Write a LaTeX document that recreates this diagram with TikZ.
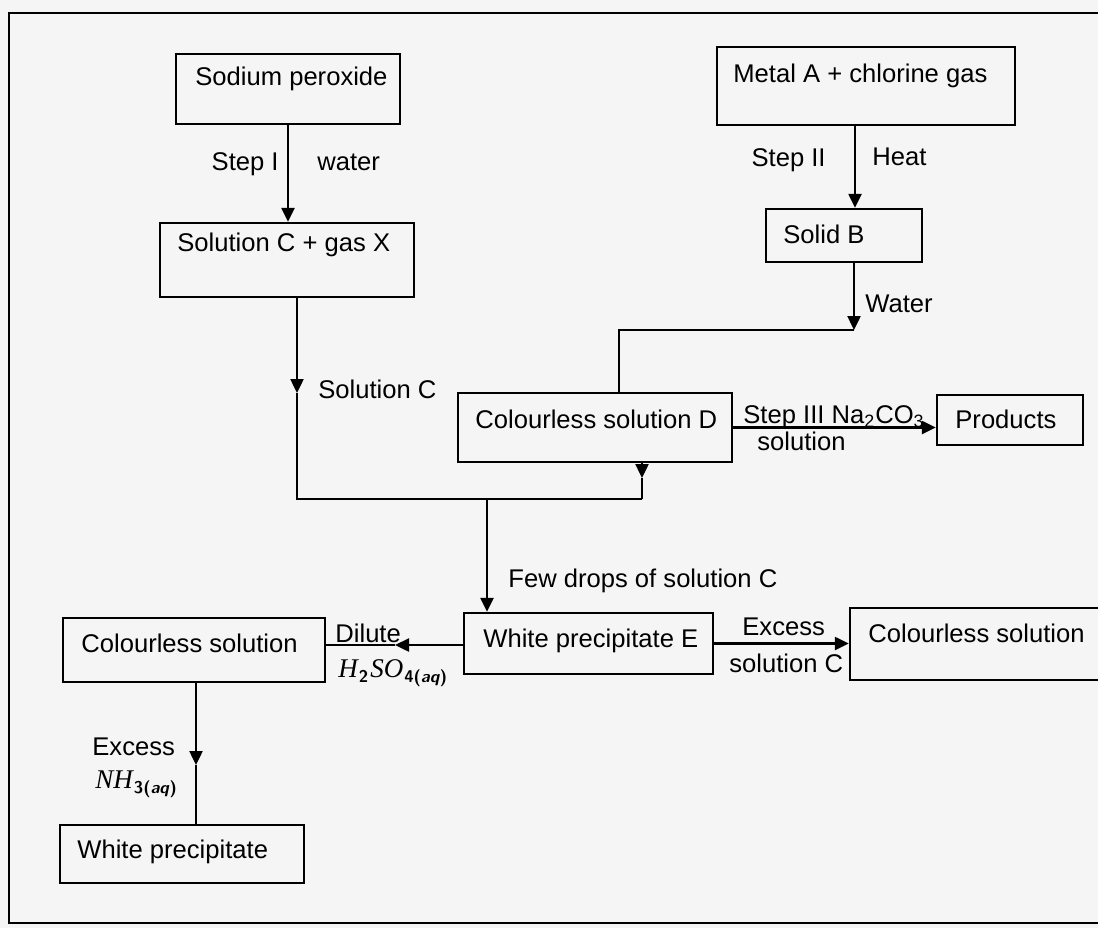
\documentclass[tikz,border=0pt]{standalone}
\usepackage{fontspec}
\setmainfont{Liberation Sans}
\newfontfamily\chemserif{Liberation Serif}
\usetikzlibrary{arrows.meta,fit}
\newcommand{\chsub}[1]{\kern0.5pt\raisebox{-0.45ex}{\fontsize{8.5}{9}\selectfont\sffamily\bfseries\upshape #1}\kern1pt}
\newcommand{\chaq}[1]{\kern0.5pt\raisebox{-0.45ex}{\fontsize{8.5}{9}\selectfont\sffamily\bfseries\upshape #1(\textit{aq})}}
\begin{document}
\begin{tikzpicture}[x=0.5pt,y=-0.5pt,
  boxst/.style={draw,line width=1.2pt,inner sep=0pt},
  txt/.style={anchor=base west,inner sep=0pt,font=\fontsize{12.8}{15}\selectfont},
  txte/.style={anchor=base east,inner sep=0pt,font=\fontsize{12.8}{15}\selectfont},
  conn/.style={line width=1.2pt},
  arr/.style={line width=1.2pt,-{Triangle[length=7pt,width=6.5pt]}}]
\useasboundingbox (0,0) rectangle (1098,928);
\clip (0,0) rectangle (1098,928);
\fill[black!4] (0,0) rectangle (1098,928);
% outer frame
\draw[line width=1.2pt] (1120,13) -- (9,13) -- (9,923) -- (1120,923);
% boxes
\node[boxst,fit={(176,54) (400,124)}] (bSP) {};
\node[boxst,fit={(160,223) (414,297)}] (bSC) {};
\node[boxst,fit={(717,47) (1015,125)}] (bMA) {};
\node[boxst,fit={(766,209) (922,262)}] (bSB) {};
\node[boxst,fit={(458,393) (732,462)}] (bD) {};
\node[boxst,fit={(937,395) (1083,445)}] (bP) {};
\node[boxst,fit={(464,613) (713,674)}] (bE) {};
\node[boxst,fit={(850,608) (1130,680)}] (bR) {};
\node[boxst,fit={(63,618) (325,682)}] (bL) {};
\node[boxst,fit={(60,825) (304,883)}] (bW) {};
% box texts
\node[txt] (tSP) at (195,85) {Sodium peroxide};
\node[txt] (tSC) at (177,251) {Solution C + gas X};
\node[txt] (tMA) at (733,82) {Metal A + chlorine gas};
\node[txt] (tSB) at (783,243) {Solid B};
\node[txt] (tD) at (475,428) {Colourless solution D};
\node[txt] (tP) at (955,428) {Products};
\node[txt] (tE) at (483,647) {White precipitate E};
\node[txt] (tR) at (868,642) {Colourless solution};
\node[txt] (tL) at (81,652) {Colourless solution};
\node[txt] (tW) at (77,858) {White precipitate};
% labels
\node[txte] (lStepI) at (279,170) {Step I};
\node[txt] (lWater) at (317,170) {water};
\node[txte] (lStepII) at (826,166) {Step II};
\node[txt] (lHeat) at (872,165) {Heat};
\node[txt] (lWater2) at (865,312) {Water};
\node[txt] (lSolC) at (318,398) {Solution C};
\node[txt] (lFew) at (508,587) {Few drops of solution C};
\node[txt] (lStep3) at (743,423) {Step III Na\textsubscript{2}CO\textsubscript{3}};
\node[txt] (lSoln) at (757,450) {solution};
\node[txt] (lExc) at (742,635) {Excess};
\node[txt] (lSolC2) at (729,672) {solution C};
\node[txt] (lDil) at (335,642) {Dilute};
\node[txt,font=\fontsize{13.5}{15}\selectfont\chemserif\itshape] (lH) at (338,677) {H\chsub{2}SO\chaq{4}};
\node[txt] (lExc2) at (92,755) {Excess};
\node[txt,font=\fontsize{13.5}{15}\selectfont\chemserif\itshape] (lNH) at (95,788) {NH\chaq{3}};
% helper coordinates
\coordinate (cx2) at (855,0);
\coordinate (jW) at (854,330);
\coordinate (jW2) at (619,330);
\coordinate (m1) at (297,393);
\coordinate (j1) at (297,499);
\coordinate (j2) at (642,499);
\coordinate (m2) at (642,478);
\coordinate (j3) at (487,499);
\coordinate (m3) at (395,645);
\coordinate (m4) at (196,765);
% connectors
\draw[arr] (bSP.south) -- (bSC.north -| bSP.south);
\draw[arr] (bMA.south -| cx2) -- (bSB.north -| cx2);
\draw[arr] (bSB.south -| jW) -- (jW);
\draw[conn] (jW) -- (jW2) -- (bD.north -| jW2);
\draw[arr] (bSC.south -| m1) -- (m1);
\draw[conn] (m1) -- (j1) -- (j2);
\draw[arr] (bD.south -| m2) -- (m2);
\draw[conn] (m2) -- (j2);
\draw[arr] (j3) -- (bE.north -| j3);
\draw[arr] (bD.east) -- (bD.east -| bP.west);
\draw[arr] (bE.east) -- (bE.east -| bR.west);
\draw[arr] (bE.west |- m3) -- (m3);
\draw[conn] (m3) -- (bL.east |- m3);
\draw[arr] (bL.south -| m4) -- (m4);
\draw[conn] (m4) -- (bW.north -| m4);
\end{tikzpicture}
\end{document}
